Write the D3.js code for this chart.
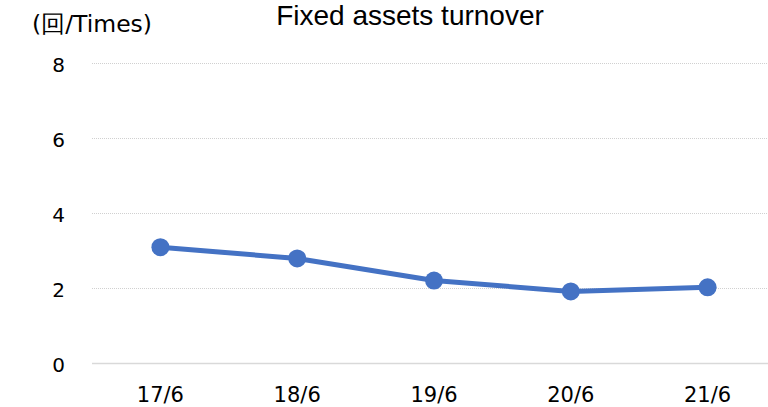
<!DOCTYPE html>
<html>
<head>
<meta charset="utf-8">
<script src="https://cdn.jsdelivr.net/npm/d3@7"></script>
<style>
  body { margin: 0; background: #fff; }
  svg { display: block; }
</style>
</head>
<body>
<svg width="768" height="407"></svg>
<script>
// chart data
var categories = ["17/6", "18/6", "19/6", "20/6", "21/6"];
var turnover = [3.08, 2.78, 2.19, 1.90, 2.01];
var yTicks = [0, 2, 4, 6, 8];

var svg = d3.select("svg"),
  width = +svg.attr("width"),
  height = +svg.attr("height");

var x = d3.scaleBand()
  .domain(categories)
  .range([92, 776]);

var y = d3.scaleLinear()
  .domain([0, 8])
  .range([362.7, 62.7]);

var tickFont = "'DejaVu Sans', sans-serif";

// gridlines
svg.append("g")
  .selectAll("line")
  .data(yTicks)
  .enter().append("line")
  .attr("x1", 92)
  .attr("x2", width)
  .attr("y1", function(d) { return Math.round(y(d)) + 0.5; })
  .attr("y2", function(d) { return Math.round(y(d)) + 0.5; })
  .attr("stroke", function(d) { return d == 0 ? "#d9d9d9" : "#d0d0d0"; })
  .attr("stroke-width", function(d) { return d == 0 ? 1.5 : 1; })
  .attr("stroke-dasharray", function(d) { return d == 0 ? null : "1,1"; });

// y labels
svg.append("g")
  .selectAll("text")
  .data(yTicks)
  .enter().append("text")
  .attr("x", 65)
  .attr("y", function(d) { return y(d) + 9; })
  .attr("text-anchor", "end")
  .style("font-family", tickFont)
  .style("font-size", "20px")
  .attr("fill", "#000")
  .text(function(d) { return d; });

// x labels
svg.append("g")
  .selectAll("text")
  .data(categories)
  .enter().append("text")
  .attr("x", function(d) { return x(d) + x.bandwidth() / 2; })
  .attr("y", 401.5)
  .attr("text-anchor", "middle")
  .style("font-family", tickFont)
  .style("font-size", "21px")
  .attr("fill", "#000")
  .text(function(d) { return d; });

var pts = categories.map(function(c, i) {
  return { cat: c, v: turnover[i] };
});

var line = d3.line()
  .x(function(d) { return x(d.cat) + x.bandwidth() / 2; })
  .y(function(d) { return y(d.v); });

svg.append("path")
  .datum(pts)
  .attr("d", line)
  .attr("fill", "none")
  .attr("stroke", "#4472C4")
  .attr("stroke-width", 5)
  .attr("stroke-linejoin", "round");

svg.append("g")
  .selectAll("circle")
  .data(pts)
  .enter().append("circle")
  .attr("cx", function(d) { return x(d.cat) + x.bandwidth() / 2; })
  .attr("cy", function(d) { return y(d.v); })
  .attr("r", 9)
  .attr("fill", "#4472C4");

// title and unit
svg.append("text")
  .attr("x", 410)
  .attr("y", 25)
  .attr("text-anchor", "middle")
  .style("font-family", "'Liberation Sans', Arial, sans-serif")
  .style("font-size", "28px")
  .attr("fill", "#000")
  .text("Fixed assets turnover");

svg.append("text")
  .attr("x", 32)
  .attr("y", 32)
  .style("font-family", tickFont)
  .style("font-size", "23.5px")
  .attr("fill", "#000")
  .text("(回/Times)");
</script>
</body>
</html>
